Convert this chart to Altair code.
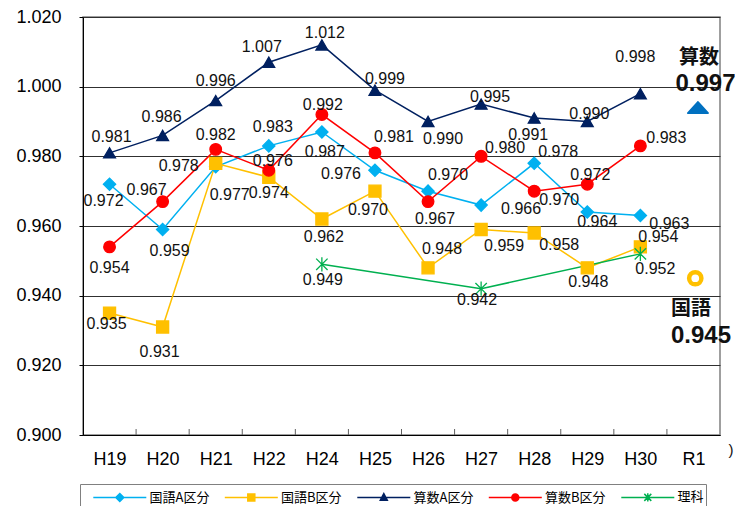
import json
import altair as alt
import pandas as pd

# ---------------- data ----------------
years = ["H19", "H20", "H21", "H22", "H24", "H25", "H26", "H27", "H28", "H29", "H30", "R1"]
series_names = ["国語A区分", "国語B区分", "算数A区分", "算数B区分", "理科"]
colors = ["#00B0F0", "#FFC000", "#002060", "#FF0000", "#00B050"]

kokugo_a = [0.972, 0.959, 0.977, 0.983, 0.987, 0.976, 0.970, 0.966, 0.978, 0.964, 0.963]
kokugo_b = [0.935, 0.931, 0.978, 0.974, 0.962, 0.970, 0.948, 0.959, 0.958, 0.948, 0.954]
sansu_a = [0.981, 0.986, 0.996, 1.007, 1.012, 0.999, 0.990, 0.995, 0.991, 0.990, 0.998]
sansu_b = [0.954, 0.967, 0.982, 0.976, 0.992, 0.981, 0.967, 0.980, 0.970, 0.972, 0.983]
rika_years = ["H24", "H27", "H30"]
rika = [0.949, 0.942, 0.952]

r1_sansu = 0.997          # R1 算数 value (text)
r1_sansu_marker = 0.994   # where the R1 triangle sits
r1_kokugo = 0.945         # R1 国語 value

# label offsets (pixels: dx right, dy down) for each data label
off_ka = [(-6, 17), (7, 22), (14, 28), (4, -19), (3, 20), (-34, 4), (20, -16), (40, 4), (24, -11), (10, 10), (29, 8)]
off_kb = [(-3, 11), (-3, 25), (-37, 3), (0, 16), (2, 18), (-7, 19), (14, -19), (23, 17), (25, 12), (1, 14), (18, -10)]
off_sa = [(2, -16), (-1, -18), (0, -20), (-7, -15), (3, -12), (10, -11), (15, 17), (9, -7), (-6, 17), (2, -8), (-5, -37)]
off_sb = [(0, 21), (-16, -12), (0, -14), (4, -9), (1, -10), (19, -16), (7, 17), (24, -8), (25, 9), (3, -9), (26, -8)]
off_rk = [(1, 16), (-4, 11), (15, 15)]

# ---------------- geometry ----------------
W, H = 637, 418
Y0, Y1 = 0.900, 1.020
PX_X = W / len(years)          # pixels per category
PX_Y = H / (Y1 - Y0)           # pixels per unit value


def lx(i, dx):
    return i + dx / PX_X


def ly(v, dy):
    return v - dy / PX_Y


rows = []
for name, vals, offs in [
    (series_names[0], kokugo_a, off_ka),
    (series_names[1], kokugo_b, off_kb),
    (series_names[2], sansu_a, off_sa),
    (series_names[3], sansu_b, off_sb),
]:
    for i, (v, (dx, dy)) in enumerate(zip(vals, offs)):
        rows.append(dict(series=name, x=i, value=v, label=f"{v:.3f}", lx=lx(i, dx), ly=ly(v, dy)))
for yr, v, (dx, dy) in zip(rika_years, rika, off_rk):
    i = years.index(yr)
    rows.append(dict(series=series_names[4], x=i, value=v, label=f"{v:.3f}", lx=lx(i, dx), ly=ly(v, dy)))
df = pd.DataFrame(rows)

shape_range = ["diamond", "square", "triangle-up", "circle",
               "M-1,-1L1,1M-1,1L1,-1M0,-1.25L0,1.25"]
size_range = [150, 130, 140, 115, 80]

color_scale = alt.Scale(domain=series_names, range=colors)
shape_scale = alt.Scale(domain=series_names, range=shape_range)
size_scale = alt.Scale(domain=series_names, range=size_range)

xscale = alt.Scale(domain=[-0.5, len(years) - 0.5], nice=False, zero=False)
yscale = alt.Scale(domain=[Y0, Y1], nice=False, zero=False)

label_expr = json.dumps(years, ensure_ascii=False) + "[datum.value]"
x_axis = alt.Axis(values=list(range(len(years))), labelExpr=label_expr, tickSize=0, grid=False,
                  domainColor="#000000", labelFont="Liberation Sans", labelFontSize=18,
                  labelColor="#000000", labelPadding=15, labelFlush=False, title=None)
y_axis = alt.Axis(values=[round(Y0 + 0.02 * k, 3) for k in range(7)], format=".3f", grid=True,
                  gridColor="#303030", gridWidth=1, tickSize=4, tickColor="#000000",
                  domainColor="#000000", labelFont="Liberation Sans", labelFontSize=18,
                  labelColor="#000000", labelPadding=18, title=None)

X = alt.X("x:Q", scale=xscale, axis=x_axis)
Y = alt.Y("value:Q", scale=yscale, axis=y_axis)

lines = alt.Chart(df).mark_line(strokeWidth=1.5).encode(
    x=X, y=Y,
    color=alt.Color("series:N", scale=color_scale, legend=None),
    detail="series:N",
)

points = alt.Chart(df).mark_point(filled=True, opacity=1, strokeWidth=1.3).encode(
    x=alt.X("x:Q", scale=xscale), y=alt.Y("value:Q", scale=yscale),
    color=alt.Color("series:N", scale=color_scale, legend=None),
    stroke=alt.Stroke("series:N", scale=color_scale, legend=None),
    shape=alt.Shape("series:N", scale=shape_scale, legend=None),
    size=alt.Size("series:N", scale=size_scale, legend=None),
)

labels = alt.Chart(df).mark_text(font="Liberation Sans", fontSize=16, color="#111111",
                                 align="center", baseline="middle").encode(
    x=alt.X("lx:Q", scale=xscale), y=alt.Y("ly:Q", scale=yscale), text="label:N"
)

# inward tick marks at category boundaries on the bottom axis
bounds = pd.DataFrame({"b": [k + 0.5 for k in range(len(years) - 1)]})
ticks = alt.Chart(bounds).mark_rule(color="#606060", strokeWidth=1).encode(
    x=alt.X("b:Q", scale=xscale), y=alt.value(H), y2=alt.value(H - 6)
)

# ---------------- R1 annotations ----------------
r1 = len(years) - 1
tri_x, tri_v = lx(r1, 4.5), r1_sansu_marker
ring_x, ring_v = lx(r1, 1.8), r1_kokugo

tri_df = pd.DataFrame([{"x": tri_x, "value": tri_v}])
ring_df = pd.DataFrame([{"x": ring_x, "value": ring_v}])

tri = alt.Chart(tri_df).mark_point(
    shape="M-1,0.55L1,0.55L0,-0.55Z", filled=True, fill="#0070C0", color="#0070C0",
    stroke="#0070C0", strokeWidth=2, strokeJoin="round", size=400, opacity=1
).encode(x=alt.X("x:Q", scale=xscale), y=alt.Y("value:Q", scale=yscale))

ring = alt.Chart(ring_df).mark_point(
    shape="circle", filled=False, color="#FFC000", strokeWidth=4.5, size=150, opacity=1
).encode(x=alt.X("x:Q", scale=xscale), y=alt.Y("value:Q", scale=yscale))

cjk_df = pd.DataFrame([
    {"t": "算数", "lx": lx(r1, 5.5), "ly": ly(tri_v, -49.5)},
    {"t": "国語", "lx": lx(r1, -2.5), "ly": ly(ring_v, 31)},
])
num_df = pd.DataFrame([
    {"t": f"{r1_sansu:.3f}", "lx": lx(r1, 12.0), "ly": ly(tri_v, -23.5)},
    {"t": f"{r1_kokugo:.3f}", "lx": lx(r1, 7.5), "ly": ly(ring_v, 58)},
])
cjk_text = alt.Chart(cjk_df).mark_text(font="Noto Sans CJK JP", fontWeight="bold", fontSize=20,
                                       color="#111111", baseline="middle").encode(
    x=alt.X("lx:Q", scale=xscale), y=alt.Y("ly:Q", scale=yscale), text="t:N")
num_text = alt.Chart(num_df).mark_text(font="Liberation Sans", fontWeight="bold", fontSize=24,
                                       color="#111111", baseline="middle").encode(
    x=alt.X("lx:Q", scale=xscale), y=alt.Y("ly:Q", scale=yscale), text="t:N")

paren_df = pd.DataFrame([{"t": ")", "lx": lx(r1, 37.5), "ly": ly(Y0, 15)}])
paren = alt.Chart(paren_df).mark_text(font="Liberation Sans", fontSize=15, color="#111111",
                                      baseline="middle").encode(
    x=alt.X("lx:Q", scale=xscale), y=alt.Y("ly:Q", scale=yscale), text="t:N")

# ---------------- legend (line + marker symbols) ----------------
# symbol unit = 10 px (symbolSize 400); line 53 px, marker at its middle
leg_paths = [
    "M0.03,0L5.33,0M2.68,-0.4L3.08,0L2.68,0.4L2.28,0Z",
    "M0.03,0L5.33,0M2.33,-0.35L3.03,-0.35L3.03,0.35L2.33,0.35Z",
    "M0.03,0L5.33,0M2.68,-0.38L3.03,0.28L2.33,0.28Z",
    "M0.03,0L5.33,0M2.33,0A0.35,0.35 0 1,0 3.03,0A0.35,0.35 0 1,0 2.33,0Z",
    "M0.03,0L5.33,0M2.33,-0.35L3.03,0.35M2.33,0.35L3.03,-0.35M2.68,-0.42L2.68,0.42",
]
leg = alt.Legend(orient="none", legendX=-3, legendY=467, direction="horizontal", columns=5,
                 title=None, symbolSize=400, symbolStrokeWidth=1.5, labelOffset=45.5,
                 columnPadding=3.5, padding=2, strokeColor="#808080", fillColor="#FFFFFF",
                 labelFont="Noto Sans CJK JP", labelFontSize=13, labelColor="#000000",
                 symbolOpacity=1)
legend_layer = alt.Chart(pd.DataFrame({"series": series_names})).mark_point(
    filled=True, opacity=1).encode(
    color=alt.Color("series:N", scale=color_scale, legend=leg),
    stroke=alt.Stroke("series:N", scale=color_scale, legend=leg),
    shape=alt.Shape("series:N", scale=alt.Scale(domain=series_names, range=leg_paths), legend=leg),
).transform_filter("false")

chart = alt.layer(
    ticks, lines, points, labels, tri, ring, cjk_text, num_text, paren, legend_layer
).resolve_scale(
    color="independent", shape="independent", stroke="independent", size="independent"
).properties(
    width=W, height=H,
    padding={"left": 75, "top": 9, "right": 15, "bottom": 71},
    autosize=alt.AutoSizeParams(type="none"),
    background="#FFFFFF",
).configure_view(stroke="#808080", strokeWidth=1.5)

chart.save("out.html", embed_options={"renderer": "svg", "actions": False})
